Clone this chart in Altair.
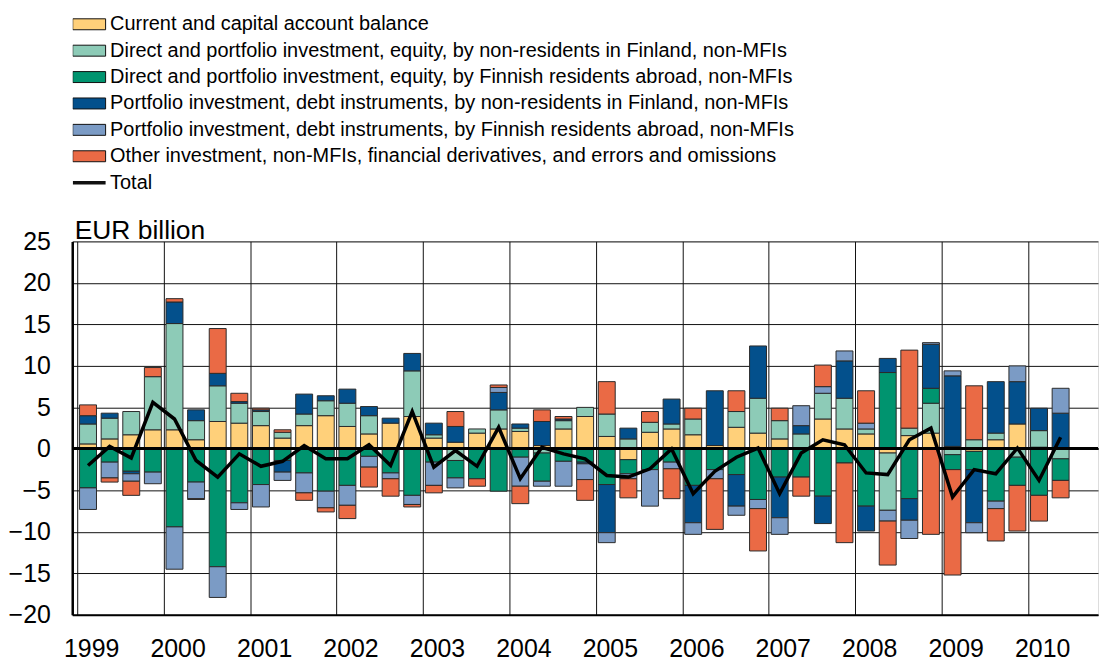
import altair as alt
import pandas as pd

years = list(range(1999, 2011))
n_slots = 47  # quarters shown on the axis (1999Q1 .. 2010Q3)

series_names = [
    "Current and capital account balance",
    "Direct and portfolio investment, equity, by non-residents in Finland, non-MFIs",
    "Direct and portfolio investment, equity, by Finnish residents abroad, non-MFIs",
    "Portfolio investment, debt instruments, by non-residents in Finland, non-MFIs",
    "Portfolio investment, debt instruments, by Finnish residents abroad, non-MFIs",
    "Other investment, non-MFIs, financial derivatives, and errors and omissions",
]
total_name = "Total"
series_colors = ["#FFD07A", "#8DCBB7", "#00946F", "#03508C", "#7B9BC5", "#EA6A45"]
total_color = "#000000"

current_capital = [0.6, 1.2, 1.7, 2.3, 2.3, 1.1, 3.3, 3.1, 2.8, 1.3, 2.8, 4.0,
                   2.7, 1.8, 3.1, 3.9, 1.3, 0.8, 1.9, 2.4, 2.1, 0.4, 2.4, 3.9,
                   1.5, -1.3, 2.0, 2.4, 1.7, 0.4, 2.6, 1.9, 1.2, 0.1, 3.6, 2.4,
                   1.8, -0.5, 1.6, 1.9, 0.3, -0.3, 1.1, 3.0, 0.2, 0.0]
equity_nonres = [2.4, 2.5, 2.8, 6.4, 12.8, 2.3, 4.3, 2.4, 1.7, 0.7, 1.4, 1.8,
                 2.8, 2.2, 0.0, 5.5, 0.4, -1.4, 0.5, 2.3, 0.4, -0.5, 1.0, 1.1,
                 2.7, 1.2, 1.2, 0.6, 1.9, 0.0, 1.9, 4.2, 2.2, 1.7, 3.1, 3.7,
                 0.6, -6.9, 0.9, 3.6, -0.7, 1.1, 0.8, -1.0, 2.0, -1.2]
equity_abroad = [-4.7, -1.6, -2.7, -2.8, -9.4, -4.0, -14.2, -6.5, -4.3, -1.4, -2.9, -5.1,
                 -4.4, -0.9, -2.9, -5.6, -1.6, -2.1, -3.6, -5.1, -1.0, -3.4, -1.5, -1.6,
                 -4.3, -1.7, -2.5, -1.6, -4.4, -2.5, -3.1, -6.1, -3.4, -3.4, -5.7, -1.7,
                 -6.9, 9.2, -6.0, 1.8, -1.8, -2.2, -6.3, -3.4, -5.6, -2.6]
debt_nonres = [1.0, 0.6, -0.3, 0.0, 2.6, 1.3, 1.5, 0.2, 0.2, -1.4, 2.4, 0.6,
               1.7, 1.1, 0.6, 2.1, 1.4, 1.9, 0.0, 2.1, 0.5, 2.9, 0.2, -0.2,
               -5.8, 1.3, 0.0, 3.0, -4.5, 6.6, -3.8, 6.3, -4.9, 1.0, -3.3, 4.5,
               -3.0, 1.7, -2.6, 5.3, 8.5, -6.4, 6.2, 5.1, 2.7, 4.3]
debt_abroad = [-2.6, -1.9, -0.9, -1.4, -5.1, -2.0, -3.7, -0.8, -2.7, -1.0, -2.4, -2.0,
               -2.4, -1.3, -0.7, -1.1, -2.8, -1.2, 0.0, 0.6, -3.5, -0.6, -3.0, -1.9,
               -1.2, -0.6, -4.4, -0.8, -1.4, -1.1, -1.1, -1.1, -2.0, 2.4, 0.8, 1.2,
               0.7, -1.3, -2.2, 0.2, 0.6, -1.2, -0.9, 1.9, 0.0, 3.0]
other_inv = [1.3, -0.5, -1.7, 1.1, 0.4, -0.1, 5.4, 1.0, 0.2, 0.3, -0.9, -0.5,
             -1.6, -2.4, -2.1, -0.3, -0.9, 1.8, -0.9, 0.3, -2.1, 1.4, 0.3, -2.5,
             3.9, -2.3, 1.3, -3.6, 1.3, -6.1, 2.5, -5.1, 1.5, -2.3, 2.6, -9.6,
             3.9, -5.3, 9.4, -10.3, -12.7, 6.5, -3.9, -5.5, -3.1, -2.1]

series_values = [current_capital, equity_nonres, equity_abroad,
                 debt_nonres, debt_abroad, other_inv]

rows = []
for k, (name, vals) in enumerate(zip(series_names, series_values)):
    for i, v in enumerate(vals):
        if v != 0:
            rows.append({"q": i, "series": name, "order": k, "value": v})
bars_df = pd.DataFrame(rows)

n_q = len(current_capital)
totals = [round(sum(s[i] for s in series_values), 2) for i in range(n_q)]
line_df = pd.DataFrame({"q": list(range(n_q)), "total": totals})

FONT = "Liberation Sans"

x_scale = alt.Scale(domain=[-0.5, n_slots - 0.5], nice=False, zero=False)
y_scale = alt.Scale(domain=[-20, 25], nice=False, zero=False)
year_ticks = [4 * k - 0.5 for k in range(len(years))]

x_axis = alt.Axis(
    values=year_ticks,
    labelExpr=f"'' + ({years[0]} + round((datum.value + 0.5) / 4))",
    title=None, ticks=False, tickSize=0, labelFlush=False, labelOverlap=False,
    labelOffset=14, labelPadding=42, labelBaseline="alphabetic",
    labelFontSize=25, labelFont=FONT,
    labelColor="#000", grid=True, gridColor="#111", gridWidth=1,
    domainColor="#000", domainWidth=2,
)
y_axis = alt.Axis(
    values=list(range(-20, 26, 5)), title="EUR billion", titleAngle=0,
    titleAlign="left", titleBaseline="alphabetic", titleX=2, titleY=-3,
    titleFont=FONT, titleFontSize=26.5, titleFontWeight="normal", titleColor="#000",
    ticks=False, tickSize=0, labelPadding=22, labelFontSize=25, labelFont=FONT,
    labelColor="#000",
    grid=True, gridColor="#111", gridWidth=1, domainColor="#000", domainWidth=2.5,
)

# legend symbols: a 33x11 box (or a 33px line for the total), drawn to the right of the entry origin
legend = alt.Legend(
    title=None, orient="none", legendX=0.5, legendY=-228, direction="vertical",
    symbolType=alt.ExprRef(expr="datum.value === 'Total' ? 'M-1,0H2.3' : 'M-1,-0.55H2.3V0.55H-1Z'"),
    symbolSize=400, symbolStrokeColor="#111",
    symbolStrokeWidth=alt.ExprRef(expr="datum.value === 'Total' ? 3.5 : 1"),
    clipHeight=20, rowPadding=6.5, labelFont=FONT, labelFontSize=20,
    labelColor="#000", labelOffset=17.5, labelLimit=1000,
)

color = alt.Color(
    "series:N",
    scale=alt.Scale(domain=series_names + [total_name],
                    range=series_colors + [total_color]),
    legend=legend,
)

bars = alt.Chart(bars_df).mark_bar(size=17, stroke="#2a2a2a", strokeWidth=1).encode(
    x=alt.X("q:Q", scale=x_scale, axis=x_axis),
    y=alt.Y("value:Q", scale=y_scale, axis=y_axis, stack="zero"),
    color=color,
    order=alt.Order("order:Q", sort="ascending"),
)

zero_rule = alt.Chart(line_df).mark_rule(color="#000", strokeWidth=2.5).encode(
    y=alt.datum(0)
)

line = alt.Chart(line_df).mark_line(color="#000", strokeWidth=3.5).encode(
    x=alt.X("q:Q", scale=x_scale),
    y=alt.Y("total:Q", scale=y_scale),
)

chart = alt.layer(bars, zero_rule, line).properties(
    width=1030, height=375,
    autosize=alt.AutoSizeParams(type="none"),
    padding={"left": 64.5, "top": 233, "right": 4, "bottom": 50},
).configure_view(strokeWidth=0).configure(font=FONT)

chart.save("out.html", embed_options={"renderer": "svg", "actions": False})
